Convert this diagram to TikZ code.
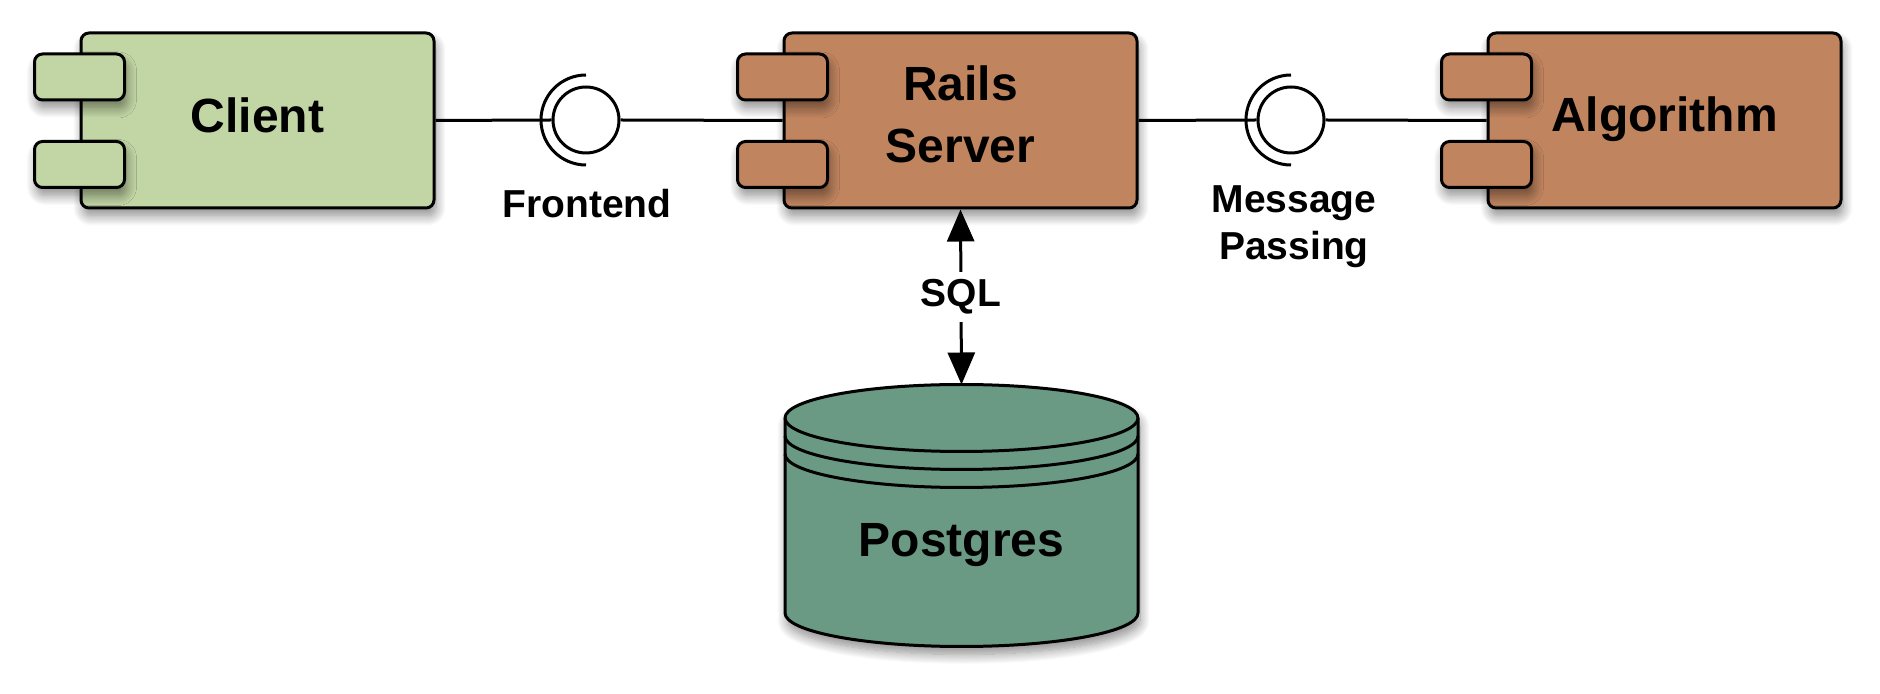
\documentclass[tikz,border=0pt]{standalone}
\usepackage{fontspec}
\setmainfont{Liberation Sans}
\usetikzlibrary{arrows.meta,shadows.blur}
\definecolor{clientgreen}{HTML}{C2D6A5}
\definecolor{railsbrown}{HTML}{C0845F}
\definecolor{pggreen}{HTML}{6A9A83}
\begin{document}
\begin{tikzpicture}[x=0.5pt,y=-0.5pt, line width=1.5pt, line join=round,
  shad/.style={blur shadow={shadow xshift=1pt, shadow yshift=-4pt, shadow blur radius=5pt, shadow blur steps=12, shadow opacity=45}},
  comp/.style={draw, rounded corners=4pt, minimum width=176.5pt, minimum height=87.5pt, shad},
  title/.style={font=\bfseries\fontsize{24}{31}\selectfont, align=center},
  tabbox/.style={draw, rounded corners=4pt, minimum width=45pt, minimum height=23pt, shad},
  lbl/.style={font=\bfseries\fontsize{19.5}{23.5}\selectfont, align=center},
  ball/.style={draw, circle, fill=white, minimum size=33pt, inner sep=0pt},
  >={Triangle[length=16pt,width=13.5pt,fill=black,color=black,line join=miter]}
]
\useasboundingbox (0,0) rectangle (1880,694);

% Components
\node[comp, fill=clientgreen] (client) at (257.5,120.5) {};
\node[tabbox, fill=clientgreen] (ct1) at (client.west) [yshift=21.75pt] {};
\node[tabbox, fill=clientgreen] (ct2) at (client.west) [yshift=-22pt] {};
\node[title] (tclient) at ([yshift=2.5pt]client.center) {Client};

\node[comp, fill=railsbrown] (rails) at (960.5,120.5) {};
\node[tabbox, fill=railsbrown] (rt1) at (rails.west) [yshift=21.75pt] {};
\node[tabbox, fill=railsbrown] (rt2) at (rails.west) [yshift=-22pt] {};
\node[title] (trails) at ([yshift=3pt]rails.center) {Rails\\Server};

\node[comp, fill=railsbrown] (algo) at (1664.5,120.5) {};
\node[tabbox, fill=railsbrown] (at1) at (algo.west) [yshift=21.75pt] {};
\node[tabbox, fill=railsbrown] (at2) at (algo.west) [yshift=-22pt] {};
\node[title] (talgo) at ([yshift=0.5pt]algo.center) {Algorithm};

% Interfaces
\node[ball] (fe) at (586,120) {};
\node[ball] (mp) at (1291,120) {};
\draw (client.east) -- (fe.west);
\draw (fe.east) -- (rails.west);
\draw (rails.east) -- (mp.west);
\draw (mp.east) -- (algo.west);
\draw ([yshift=-22.5pt]fe.center) arc[start angle=90, end angle=270, radius=45];
\draw ([yshift=-22.5pt]mp.center) arc[start angle=90, end angle=270, radius=45];
\node[lbl] (lfe) at (587,204) {Frontend};
\node[lbl] (lmp) at (1294,226.5) {Message\\Passing};

% Database
\path[fill=pggreen, draw, shad] (785,418) -- (785,613)
  arc[start angle=180, end angle=0, x radius=176.5, y radius=33.5]
  -- (1138,418)
  arc[start angle=0, end angle=-180, x radius=176.5, y radius=33.5] -- cycle;
\draw (785,418) arc[start angle=180, end angle=0, x radius=176.5, y radius=33.5];
\draw (785,436) arc[start angle=180, end angle=0, x radius=176.5, y radius=33.5];
\draw (785,454) arc[start angle=180, end angle=0, x radius=176.5, y radius=33.5];
\coordinate (pgtop) at (961.5,384.5);
\node[title] (pg) at (961.5,545) {Postgres};

% SQL connector
\draw[<->, black] (rails.south) -- node[lbl, fill=white, inner sep=4pt] (sql) {SQL} (pgtop);
\end{tikzpicture}
\end{document}
